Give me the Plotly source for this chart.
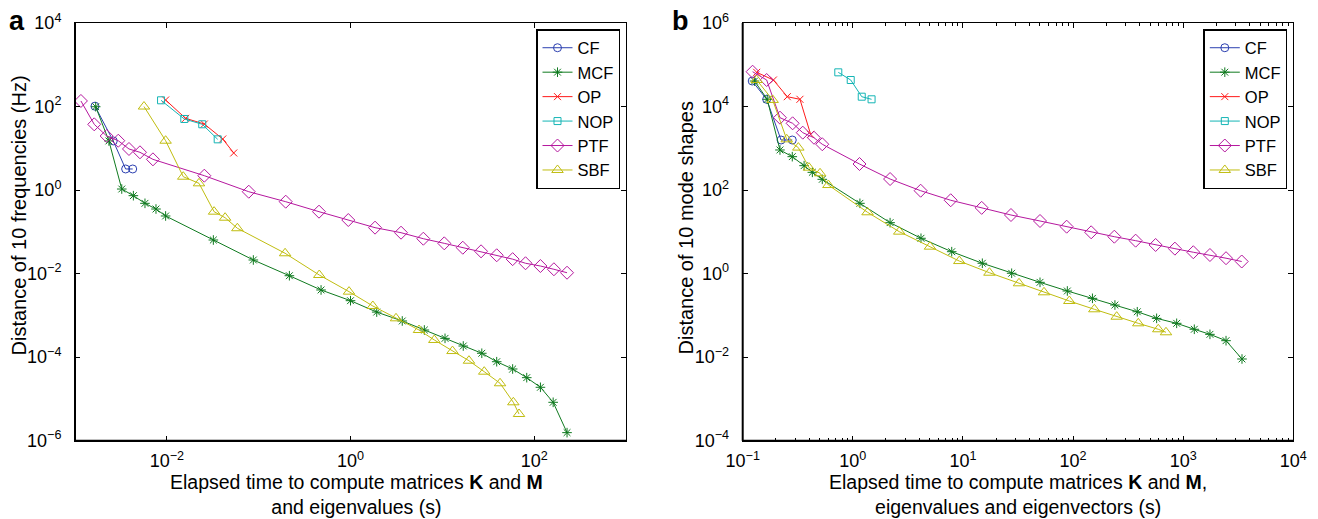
import plotly.graph_objects as go

# ---------------- data: panel a (frequencies) ----------------
cf_a_x = [1.65e-3, 2.61e-3, 3.56e-3, 4.25e-3]
cf_a_y = [102, 15.0, 3.2, 3.2]

mcf_a_x = [1.68e-3, 2.34e-3, 3.23e-3, 4.32e-3, 5.78e-3, 7.62e-3, 9.7e-3, 0.0321, 0.0875, 0.216,
           0.478, 1.0, 1.93, 3.66, 6.37, 10.7, 16.9, 26.9, 39.1, 58.3, 83.0, 117, 161, 228]
mcf_a_y = [99, 15.0, 1.06, 0.735, 0.482, 0.352, 0.24, 0.0638, 0.0212, 8.9e-3,
           4.06e-3, 2.25e-3, 1.2e-3, 7.35e-4, 4.47e-4, 2.82e-4, 1.85e-4, 1.24e-4, 7.78e-5, 5.21e-5,
           3.23e-5, 1.9e-5, 8.3e-6, 1.56e-6]

op_a_x = [9.7e-3, 0.016, 0.0256, 0.0406, 0.0535]
op_a_y = [143.5, 52.2, 38.2, 16.7, 7.73]

nop_a_x = [8.65e-3, 0.0155, 0.0243, 0.0358]
nop_a_y = [141, 50.4, 37.6, 16.4]

ptf_a_x = [1.16e-3, 1.62e-3, 2.21e-3, 2.96e-3, 3.87e-3, 5.1e-3, 7.06e-3, 0.0256, 0.078, 0.197,
           0.454, 0.946, 1.85, 3.55, 6.21, 10.5, 16.7, 26.4, 39.1, 58.3, 80.5, 117, 164, 228]
ptf_a_y = [136, 37.5, 19.7, 15.2, 9.64, 8.02, 5.44, 2.21, 0.914, 0.527,
           0.304, 0.192, 0.126, 0.0955, 0.0685, 0.0531, 0.0417, 0.0342, 0.0275, 0.0222,
           0.0177, 0.0152, 0.0127, 0.0105]

sbf_a_x = [5.64e-3, 9.7e-3, 0.0151, 0.0224, 0.0327, 0.0431, 0.0586, 0.194, 0.457, 0.964,
           1.75, 3.13, 5.57, 8.18, 12.9, 19.5, 28.6, 42.5, 59.3, 68.4]
sbf_a_y = [100, 15.2, 2.09, 1.45, 0.304, 0.218, 0.122, 0.0307, 9.27e-3, 3.7e-3,
           1.68e-3, 8.51e-4, 4.47e-4, 2.58e-4, 1.4e-4, 8.22e-5, 4.49e-5, 2.37e-5, 8.3e-6, 4.36e-6]

# ---------------- data: panel b (mode shapes) ----------------
cf_b_x = [0.122, 0.165, 0.223, 0.282]
cf_b_y = [40800, 14900, 1580, 1580]

mcf_b_x = [0.128, 0.167, 0.218, 0.282, 0.361, 0.429, 0.528, 1.16, 2.18, 4.16, 7.91, 15.0,
           27.7, 50.1, 88.7, 150, 240, 383, 574, 873, 1262, 1750, 2450, 3420]
mcf_b_y = [40800, 14900, 912, 631, 384, 266, 181, 48.2, 16.6, 7.02, 3.35, 1.77,
           1.02, 0.619, 0.384, 0.256, 0.177, 0.122, 0.0849, 0.0646, 0.0465, 0.0352, 0.0248, 9.04e-3]

op_b_x = [0.134, 0.19, 0.254, 0.331, 0.414]
op_b_y = [65900, 43200, 17200, 14900, 2160]

nop_b_x = [0.738, 0.957, 1.205, 1.48]
nop_b_y = [65900, 43200, 17200, 14900]

ptf_b_x = [0.123, 0.165, 0.218, 0.284, 0.351, 0.444, 0.528, 1.15, 2.18, 4.13, 7.74, 14.8,
           27.3, 50.1, 87.5, 146, 237, 370, 562, 841, 1236, 1750, 2450, 3400]
ptf_b_y = [68200, 43200, 5410, 3970, 2370, 1790, 1250, 421, 184, 96.6, 57.1, 37.5,
           25.3, 18.2, 13.3, 9.75, 7.66, 6.15, 4.85, 3.96, 3.25, 2.79, 2.34, 1.95]

sbf_b_x = [0.134, 0.187, 0.251, 0.32, 0.4, 0.504, 0.6, 1.36, 2.64, 5.02, 9.27, 17.4,
           32.3, 54.5, 92.5, 156, 249, 391, 594, 698]
sbf_b_y = [43200, 14400, 1640, 1040, 344, 252, 132, 29.4, 10.1, 4.42, 2.0, 1.05,
           0.586, 0.357, 0.221, 0.14, 0.0931, 0.0646, 0.0465, 0.0394]

series_names = ["CF", "MCF", "OP", "NOP", "PTF", "SBF"]
a_tick_vals = [1e-2, 1, 1e2]
a_tick_text = ["10<sup>−2</sup>", "10<sup>0</sup>", "10<sup>2</sup>"]
a_ytick_vals = [1e4, 1e2, 1, 1e-2, 1e-4, 1e-6]
a_ytick_text = ["10<sup>4</sup>", "10<sup>2</sup>", "10<sup>0</sup>", "10<sup>−2</sup>", "10<sup>−4</sup>", "10<sup>−6</sup>"]
b_tick_vals = [1e-1, 1, 1e1, 1e2, 1e3, 1e4]
b_tick_text = ["10<sup>−1</sup>", "10<sup>0</sup>", "10<sup>1</sup>", "10<sup>2</sup>", "10<sup>3</sup>", "10<sup>4</sup>"]
b_ytick_vals = [1e6, 1e4, 1e2, 1, 1e-2, 1e-4]
b_ytick_text = ["10<sup>6</sup>", "10<sup>4</sup>", "10<sup>2</sup>", "10<sup>0</sup>", "10<sup>−2</sup>", "10<sup>−4</sup>"]

# ---------------- styles ----------------
FONT = "Liberation Sans, Arial, Helvetica, sans-serif"
W, H = 1318, 519
styles = {
    "CF": dict(color="#2b3fb0", symbol="circle-open", size=8),
    "MCF": dict(color="#0f7a1f", symbol="asterisk-open", size=8),
    "OP": dict(color="#ff1a1a", symbol="x-thin-open", size=7),
    "NOP": dict(color="#14b5b5", symbol="square-open", size=7),
    "PTF": dict(color="#b5179e", symbol="diamond-open", size=10),
    "SBF": dict(color="#c0bd10", symbol="triangle-up-open", size=10),
}

data_a = {"CF": (cf_a_x, cf_a_y), "MCF": (mcf_a_x, mcf_a_y), "OP": (op_a_x, op_a_y),
          "NOP": (nop_a_x, nop_a_y), "PTF": (ptf_a_x, ptf_a_y), "SBF": (sbf_a_x, sbf_a_y)}
data_b = {"CF": (cf_b_x, cf_b_y), "MCF": (mcf_b_x, mcf_b_y), "OP": (op_b_x, op_b_y),
          "NOP": (nop_b_x, nop_b_y), "PTF": (ptf_b_x, ptf_b_y), "SBF": (sbf_b_x, sbf_b_y)}

fig = go.Figure()
for panel, data, xa, ya, leg in [("a", data_a, "x", "y", "legend"), ("b", data_b, "x2", "y2", "legend2")]:
    for name in series_names:
        st = styles[name]
        xs, ys = data[name]
        fig.add_trace(go.Scatter(
            x=xs, y=ys, name=name, mode="lines+markers", xaxis=xa, yaxis=ya, legend=leg,
            line=dict(color=st["color"], width=1),
            marker=dict(symbol=st["symbol"], size=st["size"], color=st["color"],
                        line=dict(color=st["color"], width=1)),
        ))

def px_x(v):
    return v / W

def px_y(v):
    return 1 - v / H

ax_a = (75, 626)
ax_b = (742.7, 1293.3)
ax_top, ax_bot = 23, 440.7

common_axis = dict(type="log", showgrid=False, zeroline=False, showline=True, linecolor="black",
                   linewidth=1, mirror="ticks", ticks="inside", ticklen=5, tickcolor="black",
                   tickfont=dict(family=FONT, size=18, color="black"), tickmode="array",
                   automargin=False)

leg_common = dict(xanchor="right", yanchor="top", bgcolor="white", bordercolor="black",
                  borderwidth=1.5, font=dict(family=FONT, size=16.5, color="black"), tracegroupgap=0)

fig.update_layout(
    width=W, height=H, paper_bgcolor="white", plot_bgcolor="white",
    margin=dict(l=0, r=0, t=0, b=0, autoexpand=False),
    font=dict(family=FONT, size=18, color="black"),
    xaxis=dict(common_axis, domain=[px_x(ax_a[0]), px_x(ax_a[1])], range=[-3, 3], anchor="y",
               tickvals=a_tick_vals, ticktext=a_tick_text, ticklabelstandoff=4),
    yaxis=dict(common_axis, domain=[px_y(ax_bot), px_y(ax_top)], range=[-6, 4], anchor="x",
               tickvals=a_ytick_vals, ticktext=a_ytick_text, ticklabelstandoff=9),
    xaxis2=dict(common_axis, domain=[px_x(ax_b[0]), px_x(ax_b[1])], range=[-1, 4], anchor="y2",
                tickvals=b_tick_vals, ticktext=b_tick_text, ticklabelstandoff=4,
                minor=dict(ticks="inside", ticklen=3, dtick="D1", tickcolor="black")),
    yaxis2=dict(common_axis, domain=[px_y(ax_bot), px_y(ax_top)], range=[-4, 6], anchor="x2",
                tickvals=b_ytick_vals, ticktext=b_ytick_text, ticklabelstandoff=9),
    legend=dict(leg_common, x=px_x(620), y=px_y(29)),
    legend2=dict(leg_common, x=px_x(1287.3), y=px_y(29)),
    showlegend=True,
)

# thicker left/bottom axis lines
shapes = []
for (x0, x1) in [ax_a, ax_b]:
    shapes.append(dict(type="line", xref="paper", yref="paper", x0=px_x(x0), x1=px_x(x1),
                       y0=px_y(ax_bot), y1=px_y(ax_bot), line=dict(color="black", width=2)))
    shapes.append(dict(type="line", xref="paper", yref="paper", x0=px_x(x0), x1=px_x(x0),
                       y0=px_y(ax_bot), y1=px_y(ax_top), line=dict(color="black", width=2)))
fig.update_layout(shapes=shapes)

ann = [
    dict(text="<b>a</b>", x=px_x(17), y=px_y(21), font=dict(size=27)),
    dict(text="<b>b</b>", x=px_x(680), y=px_y(21), font=dict(size=27)),
    dict(text="Distance of 10 frequencies (Hz)", x=px_x(18.5), y=px_y(216), textangle=-90,
         font=dict(size=20)),
    dict(text="Distance of 10 mode shapes", x=px_x(685.5), y=px_y(228), textangle=-90,
         font=dict(size=20)),
    dict(text="Elapsed time to compute matrices <b>K</b> and <b>M</b><br>and eigenvalues (s)",
         x=px_x(357), y=px_y(494)),
    dict(text="Elapsed time to compute matrices <b>K</b> and <b>M</b>,<br>eigenvalues and eigenvectors (s)",
         x=px_x(1018), y=px_y(494)),
]
for a in ann:
    a.setdefault("font", dict(size=19.5))
    a["font"] = dict(family=FONT, color="black", **a["font"])
    fig.add_annotation(xref="paper", yref="paper", showarrow=False, xanchor="center",
                       yanchor="middle", **a)

fig.write_html("out.html", config={"displayModeBar": False},
               post_script="document.body.style.margin='0';document.body.style.overflow='hidden';")
